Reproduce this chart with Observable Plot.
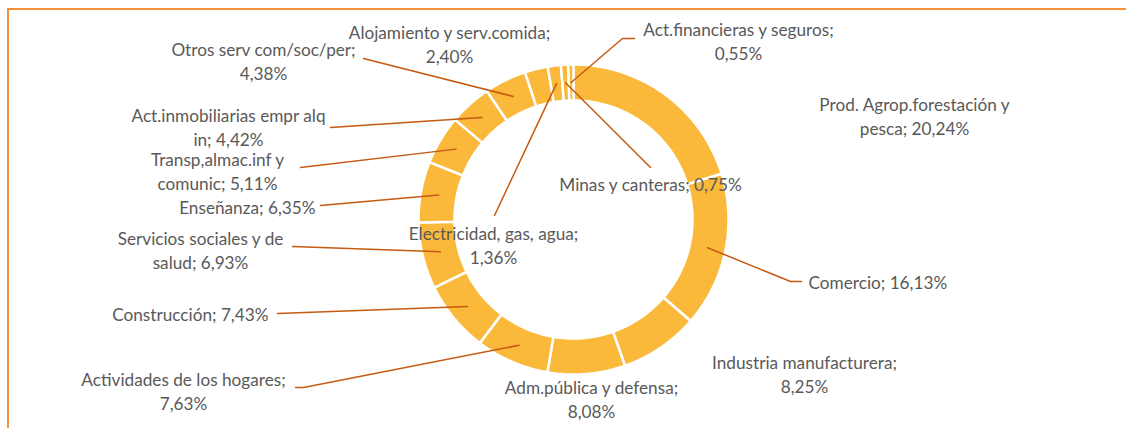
<!DOCTYPE html>
<html><head><meta charset="utf-8">
<script src="https://cdn.jsdelivr.net/npm/d3@7"></script>
<script src="https://cdn.jsdelivr.net/npm/@observablehq/plot@0.6"></script>
<style>
html,body{margin:0;padding:0;background:#fff;}
#wrap{position:relative;width:1126px;height:428px;overflow:hidden;}
#frame{position:absolute;left:7px;top:8px;width:2000px;height:2000px;border-top:2px solid #F4913A;border-left:2px solid #F4913A;pointer-events:none;}
svg text{font-family:Lato,"Open Sans",sans-serif;}
</style></head><body><div id="wrap"><div id="chart"></div><div id="frame"></div></div>
<script>
// Data (clockwise from 12 o'clock)
const sectors = [
  "Prod. Agrop.forestación y pesca",
  "Comercio",
  "Industria manufacturera",
  "Adm.pública y defensa",
  "Actividades de los hogares",
  "Construcción",
  "Servicios sociales y de salud",
  "Enseñanza",
  "Transp,almac.inf y comunic",
  "Act.inmobiliarias empr alq in",
  "Otros serv com/soc/per",
  "Alojamiento y serv.comida",
  "Electricidad, gas, agua",
  "Minas y canteras",
  "Act.financieras y seguros"
];
const shares = [20.24, 16.13, 8.25, 8.08, 7.63, 7.43, 6.93, 6.35, 5.11, 4.42, 4.38, 2.40, 1.36, 0.75, 0.55];

// Layout (label placement, wrapping, leader endpoints) in pixels
const center = [573, 219];
const rOuter = 155, rInner = 119, rLeader = 137;
const labelPos = [
  [914, 115, "middle"], [808, 281, "start"], [804, 373, "middle"], [591, 398, "middle"],
  [183, 390, "middle"], [268, 313, "end"], [200, 249, "middle"], [315, 206, "end"],
  [217, 170, "middle"], [228, 126, "middle"], [263, 60, "middle"], [449, 43, "middle"],
  [493, 244, "middle"], [650, 183, "middle"], [738, 40, "middle"]
];
const wrapAfter = [3, 0, 2, 3, 4, 0, 4, 0, 2, 3, 3, 3, 3, 0, 3];
const leaderEnds = [
  null, [[790, 281], [801, 281]], null, null,
  [[303, 387], [295, 387]], [[277, 313]], [[292, 246]], [[320, 205]],
  [[300, 167]], [[330, 127]], [[363, 58]], null,
  [[494, 215]], [[650, 167]], [[622, 38], [634, 38]]
];

const fmt = v => d3.format(".2f")(v).replace(".", ",") + "%";
const data = sectors.map((s, i) => ({sector: s, share: shares[i]}));
const arcs = d3.pie().sort(null).value(d => d.share).startAngle(0).endAngle(2 * Math.PI)(data);

const pt = (a, r) => [center[0] + r * Math.sin(a), center[1] - r * Math.cos(a)];

const ring = [];
arcs.forEach((a, i) => {
  const n = Math.max(4, Math.ceil((a.endAngle - a.startAngle) * 60));
  const pts = [];
  for (let k = 0; k <= n; k++) pts.push(pt(a.startAngle + (a.endAngle - a.startAngle) * k / n, rOuter));
  for (let k = n; k >= 0; k--) pts.push(pt(a.startAngle + (a.endAngle - a.startAngle) * k / n, rInner));
  pts.push(pts[0]);
  pts.forEach(p => ring.push({slice: i, x: p[0], y: p[1]}));
});

const leaders = [];
arcs.forEach((a, i) => {
  if (!leaderEnds[i]) return;
  const start = pt((a.startAngle + a.endAngle) / 2, rLeader);
  [start, ...leaderEnds[i]].forEach(p => leaders.push({slice: i, x: p[0], y: p[1]}));
});

const labels = data.map((d, i) => {
  const words = `${d.sector}; ${fmt(d.share)}`.split(" ");
  const k = wrapAfter[i];
  const text = k ? words.slice(0, k).join(" ") + "\n" + words.slice(k).join(" ") : words.join(" ");
  return {text, x: labelPos[i][0], y: labelPos[i][1], anchor: labelPos[i][2]};
});

const textMark = anchor => Plot.text(labels.filter(l => l.anchor === anchor), {
  x: "x", y: "y", text: "text", textAnchor: anchor, lineAnchor: "middle",
  lineHeight: 1.36, fill: "#595959", fontSize: 17.2, fontFamily: "Lato"
});

const chart = Plot.plot({
  width: 1126, height: 428, margin: 0,
  x: {type: "identity", axis: null},
  y: {type: "identity", axis: null},
  marks: [
    Plot.line(ring, {x: "x", y: "y", z: "slice", fill: "#FAB93B", stroke: "white", strokeWidth: 2.5, strokeLinejoin: "miter", curve: "linear"}),
    Plot.line(leaders, {x: "x", y: "y", z: "slice", stroke: "#C55A11", strokeWidth: 1.5, curve: "linear"}),
    textMark("middle"), textMark("start"), textMark("end")
  ]
});
document.getElementById("chart").appendChild(chart);
</script></body></html>
